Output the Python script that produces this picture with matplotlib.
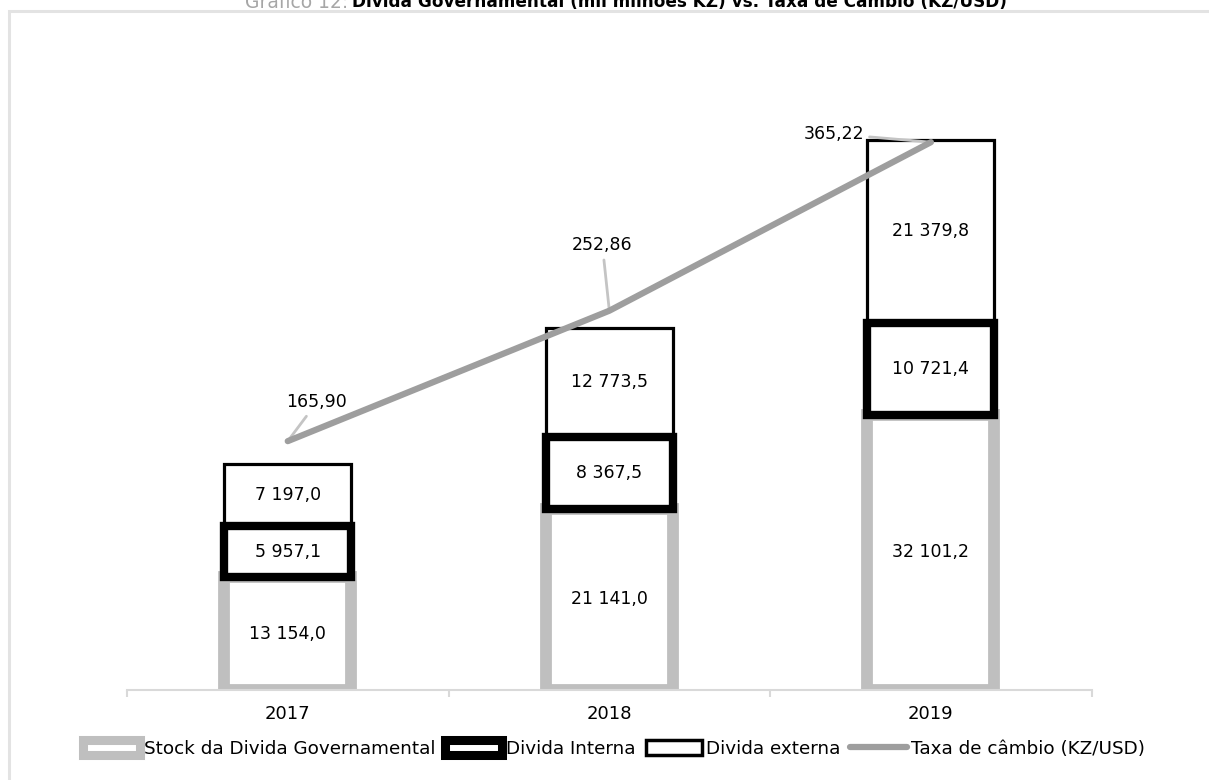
import matplotlib
matplotlib.use("Agg")
from matplotlib import pyplot as plt
from matplotlib.patches import Patch, Rectangle
from matplotlib.lines import Line2D

years = ["2017", "2018", "2019"]
stock = [13154.0, 21141.0, 32101.2]
interna = [5957.1, 8367.5, 10721.4]
externa = [7197.0, 12773.5, 21379.8]
cambio = [165.90, 252.86, 365.22]
cambio_labels = ["165,90", "252,86", "365,22"]


def fmt(v):
    # 13154.0 -> "13 154,0"
    s = f"{v:,.1f}"
    return s.replace(",", " ").replace(".", ",")


plt.rcParams["font.family"] = ["DejaVu Sans"]

fig = plt.figure(figsize=(12.09, 7.80), dpi=100)
ax = fig.add_axes([0.105, 0.1154, 0.798, 0.7692])
x = list(range(len(years)))
w = 0.395

# stacked bars: stock, then interna, then externa on top
bot_int = stock
bot_ext = [s + i for s, i in zip(stock, interna)]
ax.bar(x, stock, w, color="white", edgecolor="#bfbfbf", linewidth=8.5, zorder=2)
ax.bar(x, externa, w, bottom=bot_ext, color="white", edgecolor="black", linewidth=2.3, zorder=3)
ax.bar(x, interna, w, bottom=bot_int, color="white", edgecolor="black", linewidth=6, zorder=4)

for i in x:
    ax.text(i, stock[i] / 2, fmt(stock[i]), ha="center", va="center", fontsize=12.5, zorder=6)
    ax.text(i, bot_int[i] + interna[i] / 2, fmt(interna[i]), ha="center", va="center", fontsize=12.5, zorder=6)
    ax.text(i, bot_ext[i] + externa[i] / 2, fmt(externa[i]), ha="center", va="center", fontsize=12.5, zorder=6)

ax.set_xlim(-0.5, 2.5)
ax.set_ylim(0, 70000)
ax.set_xticks(x)
ax.set_xticklabels(years, fontsize=13)
ax.set_xticks([-0.5, 0.5, 1.5, 2.5], minor=True)
ax.tick_params(axis="x", which="major", length=0, pad=11)
ax.tick_params(axis="x", which="minor", length=5, color="#d9d9d9", width=1.5)
ax.set_yticks([])
for side in ["left", "right", "top"]:
    ax.spines[side].set_visible(False)
ax.spines["bottom"].set_color("#d9d9d9")
ax.spines["bottom"].set_linewidth(1.5)

# exchange rate on secondary axis
ax2 = ax.twinx()
ax2.set_ylim(0, 400)
ax2.set_yticks([])
for side in ["left", "right", "top", "bottom"]:
    ax2.spines[side].set_visible(False)
ax2.plot(x, cambio, color="#9e9e9e", linewidth=4.5, solid_capstyle="round", zorder=5)

offsets = [(21, 28), (-5, 47), (-70, 6)]
for i in x:
    ax2.annotate(cambio_labels[i], xy=(i, cambio[i]), xytext=offsets[i],
                 textcoords="offset points", ha="center", va="center", fontsize=12.5,
                 arrowprops=dict(arrowstyle="-", color="#c4c4c4", lw=2,
                                 shrinkA=2, shrinkB=0))

handles = [
    Patch(facecolor="white", edgecolor="#bfbfbf", linewidth=6.5),
    Patch(facecolor="white", edgecolor="black", linewidth=6.5),
    Patch(facecolor="white", edgecolor="black", linewidth=2.5),
    Line2D([0], [0], color="#9e9e9e", linewidth=4.5, solid_capstyle="round"),
]
names = ["Stock da Divida Governamental", "Divida Interna", "Divida externa",
         "Taxa de câmbio (KZ/USD)"]
fig.legend(handles, names, loc="center", bbox_to_anchor=(0.508, 0.04), ncol=4,
           frameon=False, fontsize=13.2, handlelength=3.1, handleheight=0.9,
           handletextpad=0.2, columnspacing=0.55)

# title, partially cut off at the top
fig.text(0.288, 1 - 2 / 780, "Gráfico 12:", ha="right", va="center",
         fontsize=13.5, color="#a6a6a6")
fig.text(0.291, 1 - 2 / 780, "Divida Governamental (mil milhões KZ) vs. Taxa de Câmbio (KZ/USD)",
         ha="left", va="center", fontsize=12.2, fontweight="bold", color="black")

# chart border
fig.add_artist(Rectangle((9 / 1209, -0.05), 1.2, 1 - 11 / 780 + 0.05,
                         transform=fig.transFigure, fill=False,
                         edgecolor="#e3e3e3", linewidth=2.2))

fig.savefig("out.png", dpi=100)
